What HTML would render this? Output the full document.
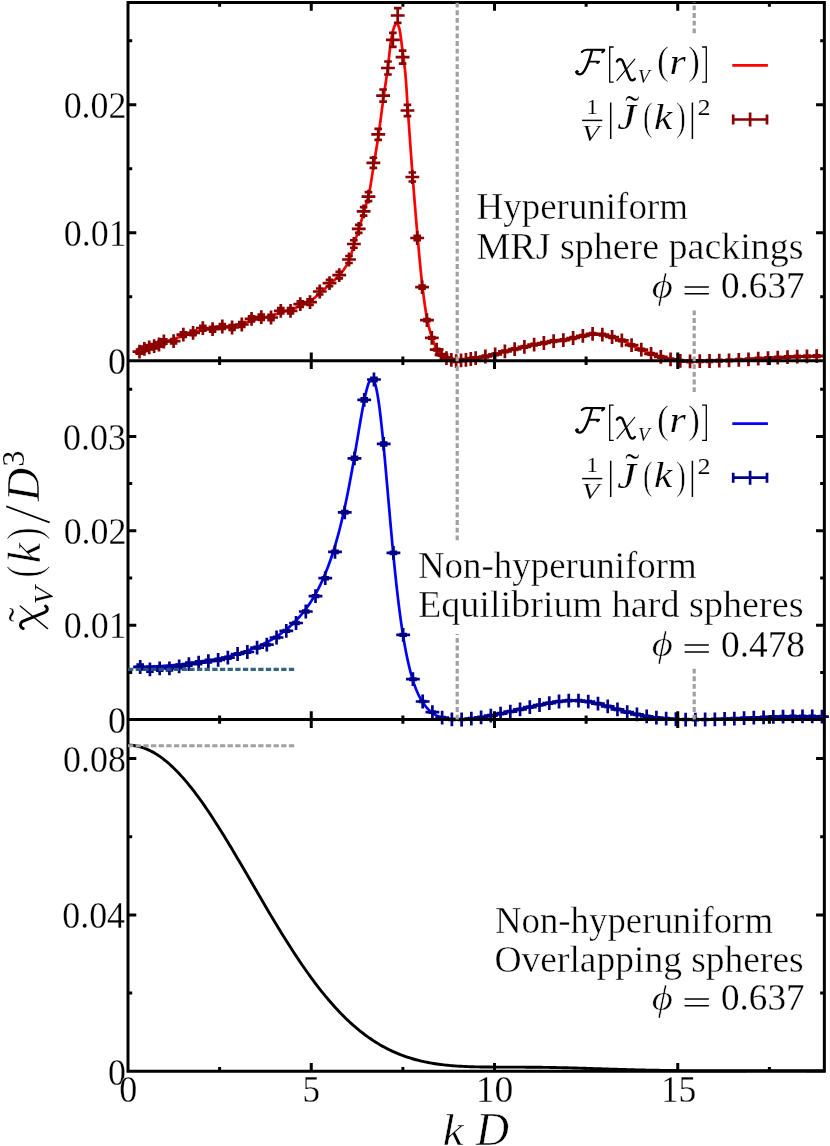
<!DOCTYPE html>
<html><head><meta charset="utf-8"><title>chart</title><style>html,body{margin:0;padding:0;background:#fff}svg{display:block}</style></head><body>
<svg width="830" height="1146" viewBox="0 0 830 1146">
<rect width="830" height="1146" fill="#fff"/>
<path d="M135.00,353.50 L135.77,353.22 L136.53,352.94 L137.30,352.65 L138.07,352.36 L138.83,352.06 L139.60,351.76 L140.37,351.45 L141.13,351.13 L141.90,350.80 L142.67,350.46 L143.43,350.13 L144.20,349.79 L144.97,349.45 L145.74,349.11 L146.50,348.77 L147.27,348.44 L148.04,348.12 L148.80,347.81 L149.57,347.51 L150.34,347.22 L151.10,346.94 L151.87,346.67 L152.64,346.40 L153.40,346.13 L154.17,345.87 L154.94,345.61 L155.70,345.35 L156.47,345.10 L157.24,344.84 L158.00,344.58 L158.77,344.32 L159.54,344.06 L160.30,343.79 L161.07,343.52 L161.84,343.26 L162.60,342.99 L163.37,342.73 L164.14,342.46 L164.91,342.19 L165.67,341.93 L166.44,341.66 L167.21,341.39 L167.97,341.13 L168.74,340.86 L169.51,340.59 L170.27,340.32 L171.04,340.05 L171.81,339.78 L172.57,339.51 L173.34,339.24 L174.11,338.96 L174.87,338.68 L175.64,338.40 L176.41,338.12 L177.17,337.83 L177.94,337.55 L178.71,337.26 L179.47,336.97 L180.24,336.69 L181.01,336.41 L181.77,336.13 L182.54,335.86 L183.31,335.60 L184.07,335.34 L184.84,335.08 L185.61,334.83 L186.38,334.58 L187.14,334.33 L187.91,334.09 L188.68,333.85 L189.44,333.61 L190.21,333.37 L190.98,333.14 L191.74,332.92 L192.51,332.70 L193.28,332.48 L194.04,332.26 L194.81,332.05 L195.58,331.83 L196.34,331.62 L197.11,331.40 L197.88,331.20 L198.64,330.99 L199.41,330.80 L200.18,330.61 L200.94,330.43 L201.71,330.26 L202.48,330.10 L203.24,329.95 L204.01,329.82 L204.78,329.69 L205.55,329.56 L206.31,329.45 L207.08,329.34 L207.85,329.23 L208.61,329.12 L209.38,329.01 L210.15,328.91 L210.91,328.80 L211.68,328.70 L212.45,328.58 L213.21,328.47 L213.98,328.35 L214.75,328.22 L215.51,328.10 L216.28,327.97 L217.05,327.84 L217.81,327.71 L218.58,327.59 L219.35,327.47 L220.11,327.35 L220.88,327.23 L221.65,327.12 L222.41,327.02 L223.18,326.93 L223.95,326.85 L224.72,326.77 L225.48,326.69 L226.25,326.62 L227.02,326.55 L227.78,326.49 L228.55,326.42 L229.32,326.34 L230.08,326.27 L230.85,326.18 L231.62,326.09 L232.38,325.99 L233.15,325.88 L233.92,325.76 L234.68,325.63 L235.45,325.49 L236.22,325.34 L236.98,325.18 L237.75,325.02 L238.52,324.85 L239.28,324.67 L240.05,324.49 L240.82,324.30 L241.58,324.11 L242.35,323.91 L243.12,323.68 L243.89,323.44 L244.65,323.17 L245.42,322.89 L246.19,322.60 L246.95,322.31 L247.72,322.01 L248.49,321.72 L249.25,321.43 L250.02,321.15 L250.79,320.88 L251.55,320.63 L252.32,320.41 L253.09,320.19 L253.85,319.98 L254.62,319.78 L255.39,319.58 L256.15,319.39 L256.92,319.20 L257.69,319.01 L258.45,318.83 L259.22,318.65 L259.99,318.47 L260.75,318.29 L261.52,318.11 L262.29,317.93 L263.06,317.76 L263.82,317.59 L264.59,317.43 L265.36,317.28 L266.12,317.12 L266.89,316.96 L267.66,316.80 L268.42,316.63 L269.19,316.45 L269.96,316.27 L270.72,316.07 L271.49,315.86 L272.26,315.63 L273.02,315.39 L273.79,315.12 L274.56,314.85 L275.32,314.57 L276.09,314.28 L276.86,313.99 L277.62,313.70 L278.39,313.41 L279.16,313.13 L279.92,312.86 L280.69,312.60 L281.46,312.35 L282.22,312.12 L282.99,311.89 L283.76,311.66 L284.53,311.44 L285.29,311.23 L286.06,311.01 L286.83,310.79 L287.59,310.57 L288.36,310.34 L289.13,310.11 L289.89,309.87 L290.66,309.62 L291.43,309.35 L292.19,309.08 L292.96,308.80 L293.73,308.51 L294.49,308.22 L295.26,307.92 L296.03,307.61 L296.79,307.30 L297.56,306.98 L298.33,306.65 L299.09,306.33 L299.86,306.00 L300.63,305.66 L301.39,305.33 L302.16,304.99 L302.93,304.66 L303.70,304.33 L304.46,303.99 L305.23,303.64 L306.00,303.29 L306.76,302.92 L307.53,302.54 L308.30,302.14 L309.06,301.72 L309.83,301.28 L310.60,300.82 L311.36,300.31 L312.13,299.76 L312.90,299.18 L313.66,298.56 L314.43,297.92 L315.20,297.26 L315.96,296.59 L316.73,295.91 L317.50,295.22 L318.26,294.53 L319.03,293.85 L319.80,293.17 L320.56,292.51 L321.33,291.84 L322.10,291.17 L322.87,290.49 L323.63,289.81 L324.40,289.12 L325.17,288.43 L325.93,287.73 L326.70,287.04 L327.47,286.33 L328.23,285.63 L329.00,284.92 L329.77,284.22 L330.53,283.51 L331.30,282.83 L332.07,282.15 L332.83,281.48 L333.60,280.82 L334.37,280.14 L335.13,279.46 L335.90,278.76 L336.67,278.04 L337.43,277.29 L338.20,276.50 L338.97,275.68 L339.73,274.81 L340.50,273.90 L341.27,272.97 L342.04,272.00 L342.80,271.01 L343.57,269.97 L344.34,268.87 L345.10,267.71 L345.87,266.49 L346.64,265.19 L347.40,263.80 L348.17,262.32 L348.94,260.73 L349.70,259.02 L350.47,256.90 L351.24,254.36 L352.00,251.59 L352.77,248.72 L353.54,245.92 L354.30,243.34 L355.07,240.88 L355.84,238.46 L356.60,236.07 L357.37,233.67 L358.14,231.25 L358.90,228.79 L359.67,226.29 L360.44,223.78 L361.20,221.25 L361.97,218.69 L362.74,216.10 L363.51,213.47 L364.27,210.80 L365.04,208.18 L365.81,205.60 L366.57,202.97 L367.34,200.22 L368.11,197.26 L368.87,194.02 L369.64,190.37 L370.41,186.15 L371.17,181.51 L371.94,176.62 L372.71,171.62 L373.47,166.67 L374.24,161.91 L375.01,157.22 L375.77,152.53 L376.54,147.78 L377.31,142.94 L378.07,137.94 L378.84,132.73 L379.61,127.23 L380.37,121.48 L381.14,115.59 L381.91,109.67 L382.68,103.82 L383.44,98.14 L384.21,92.73 L384.98,87.56 L385.74,82.47 L386.51,77.30 L387.28,71.90 L388.04,66.07 L388.81,59.24 L389.58,52.01 L390.34,45.27 L391.11,39.94 L391.88,35.81 L392.64,32.19 L393.41,29.24 L394.18,27.05 L394.94,25.14 L395.71,23.63 L396.48,23.00 L397.24,23.51 L398.01,24.88 L398.78,26.81 L399.54,29.24 L400.31,33.52 L401.08,39.21 L401.85,45.46 L402.61,51.43 L403.38,56.97 L404.15,62.71 L404.91,69.21 L405.68,77.17 L406.45,87.90 L407.21,100.02 L407.98,111.63 L408.75,122.56 L409.51,133.45 L410.28,144.24 L411.05,154.87 L411.81,165.29 L412.58,175.44 L413.35,185.36 L414.11,195.12 L414.88,204.72 L415.65,214.11 L416.41,223.26 L417.18,232.15 L417.95,240.76 L418.71,249.30 L419.48,257.74 L420.25,265.92 L421.02,273.71 L421.78,280.98 L422.55,287.60 L423.32,293.78 L424.08,299.70 L424.85,305.29 L425.62,310.47 L426.38,315.16 L427.15,319.27 L427.92,322.84 L428.68,326.09 L429.45,329.06 L430.22,331.79 L430.98,334.32 L431.75,336.68 L432.52,338.91 L433.28,341.07 L434.05,343.13 L434.82,345.05 L435.58,346.81 L436.35,348.36 L437.12,349.69 L437.88,350.86 L438.65,351.94 L439.42,352.91 L440.18,353.78 L440.95,354.53 L441.72,355.17 L442.49,355.74 L443.25,356.25 L444.02,356.72 L444.79,357.15 L445.55,357.54 L446.32,357.90 L447.09,358.24 L447.85,358.55 L448.62,358.85 L449.39,359.13 L450.15,359.39 L450.92,359.62 L451.69,359.82 L452.45,360.01 L453.22,360.19 L453.99,360.38 L454.75,360.54 L455.52,360.67 L456.29,360.76 L457.05,360.80 L457.82,360.79 L458.59,360.76 L459.35,360.71 L460.12,360.65 L460.89,360.58 L461.66,360.51 L462.42,360.44 L463.19,360.36 L463.96,360.26 L464.72,360.15 L465.49,360.04 L466.26,359.92 L467.02,359.79 L467.79,359.64 L468.56,359.48 L469.32,359.32 L470.09,359.16 L470.86,359.01 L471.62,358.87 L472.39,358.74 L473.16,358.62 L473.92,358.49 L474.69,358.37 L475.46,358.24 L476.22,358.11 L476.99,357.98 L477.76,357.85 L478.52,357.73 L479.29,357.60 L480.06,357.47 L480.83,357.34 L481.59,357.20 L482.36,357.07 L483.13,356.93 L483.89,356.79 L484.66,356.65 L485.43,356.50 L486.19,356.34 L486.96,356.19 L487.73,356.03 L488.49,355.87 L489.26,355.70 L490.03,355.53 L490.79,355.36 L491.56,355.18 L492.33,355.00 L493.09,354.82 L493.86,354.63 L494.63,354.43 L495.39,354.24 L496.16,354.03 L496.93,353.81 L497.69,353.58 L498.46,353.34 L499.23,353.10 L500.00,352.86 L500.76,352.62 L501.53,352.38 L502.30,352.14 L503.06,351.91 L503.83,351.69 L504.60,351.48 L505.36,351.28 L506.13,351.09 L506.90,350.91 L507.66,350.74 L508.43,350.56 L509.20,350.39 L509.96,350.23 L510.73,350.06 L511.50,349.90 L512.26,349.73 L513.03,349.56 L513.80,349.39 L514.56,349.22 L515.33,349.04 L516.10,348.86 L516.86,348.68 L517.63,348.50 L518.40,348.32 L519.17,348.13 L519.93,347.95 L520.70,347.77 L521.47,347.59 L522.23,347.40 L523.00,347.22 L523.77,347.04 L524.53,346.87 L525.30,346.69 L526.07,346.51 L526.83,346.33 L527.60,346.15 L528.37,345.97 L529.13,345.79 L529.90,345.61 L530.67,345.44 L531.43,345.27 L532.20,345.10 L532.97,344.94 L533.73,344.78 L534.50,344.63 L535.27,344.48 L536.03,344.34 L536.80,344.21 L537.57,344.07 L538.33,343.94 L539.10,343.81 L539.87,343.68 L540.64,343.56 L541.40,343.43 L542.17,343.30 L542.94,343.17 L543.70,343.03 L544.47,342.89 L545.24,342.75 L546.00,342.60 L546.77,342.45 L547.54,342.29 L548.30,342.14 L549.07,341.99 L549.84,341.84 L550.60,341.70 L551.37,341.56 L552.14,341.43 L552.90,341.31 L553.67,341.19 L554.44,341.09 L555.20,341.00 L555.97,340.91 L556.74,340.83 L557.50,340.76 L558.27,340.68 L559.04,340.61 L559.81,340.53 L560.57,340.45 L561.34,340.36 L562.11,340.27 L562.87,340.17 L563.64,340.06 L564.41,339.93 L565.17,339.79 L565.94,339.64 L566.71,339.48 L567.47,339.31 L568.24,339.14 L569.01,338.96 L569.77,338.78 L570.54,338.59 L571.31,338.41 L572.07,338.23 L572.84,338.06 L573.61,337.89 L574.37,337.72 L575.14,337.54 L575.91,337.37 L576.67,337.19 L577.44,337.02 L578.21,336.84 L578.98,336.67 L579.74,336.49 L580.51,336.32 L581.28,336.15 L582.04,335.98 L582.81,335.81 L583.58,335.64 L584.34,335.44 L585.11,335.24 L585.88,335.03 L586.64,334.82 L587.41,334.62 L588.18,334.43 L588.94,334.25 L589.71,334.09 L590.48,333.97 L591.24,333.87 L592.01,333.81 L592.78,333.80 L593.54,333.81 L594.31,333.84 L595.08,333.88 L595.84,333.94 L596.61,334.00 L597.38,334.08 L598.15,334.16 L598.91,334.25 L599.68,334.35 L600.45,334.45 L601.21,334.55 L601.98,334.65 L602.75,334.76 L603.51,334.88 L604.28,335.02 L605.05,335.17 L605.81,335.34 L606.58,335.52 L607.35,335.71 L608.11,335.91 L608.88,336.11 L609.65,336.32 L610.41,336.53 L611.18,336.75 L611.95,336.96 L612.71,337.18 L613.48,337.40 L614.25,337.63 L615.01,337.87 L615.78,338.11 L616.55,338.36 L617.31,338.62 L618.08,338.88 L618.85,339.16 L619.62,339.44 L620.38,339.73 L621.15,340.03 L621.92,340.34 L622.68,340.66 L623.45,341.01 L624.22,341.38 L624.98,341.76 L625.75,342.15 L626.52,342.56 L627.28,342.97 L628.05,343.38 L628.82,343.79 L629.58,344.20 L630.35,344.59 L631.12,344.98 L631.88,345.35 L632.65,345.72 L633.42,346.08 L634.18,346.44 L634.95,346.80 L635.72,347.16 L636.48,347.51 L637.25,347.86 L638.02,348.21 L638.79,348.56 L639.55,348.91 L640.32,349.25 L641.09,349.60 L641.85,349.94 L642.62,350.29 L643.39,350.64 L644.15,350.99 L644.92,351.33 L645.69,351.68 L646.45,352.02 L647.22,352.36 L647.99,352.69 L648.75,353.01 L649.52,353.32 L650.29,353.61 L651.05,353.90 L651.82,354.17 L652.59,354.43 L653.35,354.69 L654.12,354.94 L654.89,355.18 L655.65,355.42 L656.42,355.65 L657.19,355.88 L657.96,356.10 L658.72,356.32 L659.49,356.54 L660.26,356.75 L661.02,356.96 L661.79,357.17 L662.56,357.38 L663.32,357.58 L664.09,357.78 L664.86,357.98 L665.62,358.18 L666.39,358.37 L667.16,358.56 L667.92,358.74 L668.69,358.91 L669.46,359.08 L670.22,359.24 L670.99,359.39 L671.76,359.54 L672.52,359.69 L673.29,359.84 L674.06,359.99 L674.82,360.14 L675.59,360.28 L676.36,360.41 L677.13,360.53 L677.89,360.64 L678.66,360.74 L679.43,360.82 L680.19,360.89 L680.96,360.95 L681.73,361.01 L682.49,361.07 L683.26,361.12 L684.03,361.18 L684.79,361.22 L685.56,361.27 L686.33,361.31 L687.09,361.34 L687.86,361.37 L688.63,361.39 L689.39,361.40 L690.16,361.40 L690.93,361.40 L691.69,361.39 L692.46,361.38 L693.23,361.36 L693.99,361.35 L694.76,361.33 L695.53,361.31 L696.29,361.29 L697.06,361.27 L697.83,361.25 L698.60,361.23 L699.36,361.21 L700.13,361.19 L700.90,361.18 L701.66,361.16 L702.43,361.15 L703.20,361.13 L703.96,361.12 L704.73,361.10 L705.50,361.09 L706.26,361.07 L707.03,361.06 L707.80,361.04 L708.56,361.02 L709.33,361.00 L710.10,360.99 L710.86,360.97 L711.63,360.94 L712.40,360.92 L713.16,360.90 L713.93,360.88 L714.70,360.85 L715.46,360.83 L716.23,360.80 L717.00,360.78 L717.77,360.75 L718.53,360.73 L719.30,360.70 L720.07,360.67 L720.83,360.64 L721.60,360.61 L722.37,360.58 L723.13,360.55 L723.90,360.52 L724.67,360.48 L725.43,360.45 L726.20,360.42 L726.97,360.39 L727.73,360.35 L728.50,360.32 L729.27,360.29 L730.03,360.26 L730.80,360.23 L731.57,360.20 L732.33,360.17 L733.10,360.14 L733.87,360.11 L734.63,360.08 L735.40,360.04 L736.17,360.01 L736.94,359.98 L737.70,359.95 L738.47,359.91 L739.24,359.88 L740.00,359.84 L740.77,359.81 L741.54,359.77 L742.30,359.74 L743.07,359.70 L743.84,359.66 L744.60,359.62 L745.37,359.58 L746.14,359.54 L746.90,359.50 L747.67,359.45 L748.44,359.40 L749.20,359.35 L749.97,359.30 L750.74,359.23 L751.50,359.17 L752.27,359.10 L753.04,359.03 L753.80,358.96 L754.57,358.89 L755.34,358.82 L756.11,358.76 L756.87,358.70 L757.64,358.64 L758.41,358.59 L759.17,358.54 L759.94,358.50 L760.71,358.46 L761.47,358.42 L762.24,358.38 L763.01,358.34 L763.77,358.30 L764.54,358.27 L765.31,358.23 L766.07,358.19 L766.84,358.16 L767.61,358.12 L768.37,358.08 L769.14,358.04 L769.91,358.00 L770.67,357.96 L771.44,357.92 L772.21,357.88 L772.97,357.84 L773.74,357.80 L774.51,357.77 L775.28,357.73 L776.04,357.69 L776.81,357.65 L777.58,357.61 L778.34,357.57 L779.11,357.53 L779.88,357.49 L780.64,357.45 L781.41,357.41 L782.18,357.37 L782.94,357.33 L783.71,357.29 L784.48,357.25 L785.24,357.21 L786.01,357.18 L786.78,357.14 L787.54,357.10 L788.31,357.06 L789.08,357.01 L789.84,356.97 L790.61,356.92 L791.38,356.88 L792.14,356.83 L792.91,356.79 L793.68,356.75 L794.44,356.71 L795.21,356.68 L795.98,356.64 L796.75,356.61 L797.51,356.59 L798.28,356.57 L799.05,356.55 L799.81,356.54 L800.58,356.52 L801.35,356.51 L802.11,356.49 L802.88,356.48 L803.65,356.47 L804.41,356.45 L805.18,356.44 L805.95,356.42 L806.71,356.41 L807.48,356.39 L808.25,356.37 L809.01,356.34 L809.78,356.32 L810.55,356.30 L811.31,356.27 L812.08,356.25 L812.85,356.22 L813.61,356.20 L814.38,356.17 L815.15,356.15 L815.92,356.12 L816.68,356.10 L817.45,356.08 L818.22,356.06 L818.98,356.04 L819.75,356.02 L820.52,356.00 L821.28,355.98 L822.05,355.96 L822.82,355.94 L823.58,355.92 L824.35,355.90" fill="none" stroke="#ff0000" stroke-width="2.7" stroke-linejoin="round"/>
<path d="M132.60,351.70H146.40M139.50,344.80V358.60M135.70,349.66h7.6M135.70,353.74h7.6M137.47,348.80H151.27M144.37,341.90V355.70M140.57,346.71h7.6M140.57,350.89h7.6M142.34,347.30H156.14M149.24,340.40V354.20M145.44,345.19h7.6M145.44,349.41h7.6M147.22,346.20H161.02M154.12,339.30V353.10M150.32,344.07h7.6M150.32,348.33h7.6M152.09,344.50H165.89M158.99,337.60V351.40M155.19,342.34h7.6M155.19,346.66h7.6M156.96,341.50H170.76M163.86,334.60V348.40M160.06,339.30h7.6M160.06,343.70h7.6M166.70,341.20H180.50M173.60,334.30V348.10M169.80,338.99h7.6M169.80,343.41h7.6M176.45,334.70H190.25M183.35,327.80V341.60M179.55,332.39h7.6M179.55,337.01h7.6M186.19,332.90H199.99M193.09,326.00V339.80M189.29,330.56h7.6M189.29,335.24h7.6M195.94,328.20H209.74M202.84,321.30V335.10M199.04,325.79h7.6M199.04,330.61h7.6M205.68,329.20H219.48M212.58,322.30V336.10M208.78,326.80h7.6M208.78,331.60h7.6M215.42,326.50H229.22M222.32,319.60V333.40M218.52,324.06h7.6M218.52,328.94h7.6M225.17,327.50H238.97M232.07,320.60V334.40M228.27,325.08h7.6M228.27,329.92h7.6M234.91,324.50H248.71M241.81,317.60V331.40M238.01,322.03h7.6M238.01,326.97h7.6M244.66,318.90H258.46M251.56,312.00V325.80M247.76,316.34h7.6M247.76,321.46h7.6M254.40,317.20H268.20M261.30,310.30V324.10M257.50,314.61h7.6M257.50,319.79h7.6M264.14,317.50H277.94M271.04,310.60V324.40M267.24,314.92h7.6M267.24,320.08h7.6M273.89,310.80H287.69M280.79,303.90V317.70M276.99,308.11h7.6M276.99,313.49h7.6M283.63,310.80H297.43M290.53,303.90V317.70M286.73,308.11h7.6M286.73,313.49h7.6M293.38,304.20H307.18M300.28,297.30V311.10M296.48,301.41h7.6M296.48,306.99h7.6M303.12,302.20H316.92M310.02,295.30V309.10M306.22,299.38h7.6M306.22,305.02h7.6M312.86,291.50H326.66M319.76,284.60V298.40M315.96,288.51h7.6M315.96,294.49h7.6M322.61,283.10H336.41M329.51,276.20V290.00M325.71,279.97h7.6M325.71,286.23h7.6M332.35,275.20H346.15M339.25,268.30V282.10M335.45,271.95h7.6M335.45,278.45h7.6M342.10,259.50H355.90M349.00,252.60V266.40M345.20,256.00h7.6M345.20,263.00h7.6M346.97,244.00H360.77M353.87,237.10V250.90M350.07,240.26h7.6M350.07,247.74h7.6M351.84,228.80H365.64M358.74,221.90V235.70M354.94,224.82h7.6M354.94,232.78h7.6M356.71,211.40H370.51M363.61,204.50V218.30M359.81,207.14h7.6M359.81,215.66h7.6M361.58,196.60H375.38M368.48,189.70V203.50M364.68,192.11h7.6M364.68,201.09h7.6M366.46,162.80H380.26M373.36,155.90V169.70M369.56,157.77h7.6M369.56,167.83h7.6M371.33,134.40H385.13M378.23,127.50V141.30M374.43,128.92h7.6M374.43,139.88h7.6M376.20,95.60H390.00M383.10,88.70V102.50M379.30,89.51h7.6M379.30,101.69h7.6M381.07,68.00H394.87M387.97,61.10V74.90M384.17,61.48h7.6M384.17,74.52h7.6M385.94,39.90H399.74M392.84,32.93V46.87M389.04,32.93h7.6M389.04,46.87h7.6M390.82,15.50H404.62M397.72,8.15V22.85M393.92,8.15h7.6M393.92,22.85h7.6M395.69,57.10H409.49M402.59,50.20V64.00M398.79,50.60h7.6M398.79,63.60h7.6M400.56,110.50H414.36M407.46,103.60V117.40M403.66,104.80h7.6M403.66,116.20h7.6M405.43,177.00H419.23M412.33,170.10V183.90M408.53,172.50h7.6M408.53,181.50h7.6M410.30,238.00H424.10M417.20,231.10V244.90M413.40,235.90h7.6M413.40,240.10h7.6M415.18,287.20H428.98M422.08,280.30V294.10M418.28,285.70h7.6M418.28,288.70h7.6M420.05,320.10H433.85M426.95,313.20V327.00M423.15,319.10h7.6M423.15,321.10h7.6M424.92,337.90H438.72M431.82,331.00V344.80M428.02,337.10h7.6M428.02,338.70h7.6M429.79,349.70H443.59M436.69,342.80V356.60M432.89,348.90h7.6M432.89,350.50h7.6M434.66,354.80H448.46M441.56,347.90V361.70M437.76,354.00h7.6M437.76,355.60h7.6M439.54,358.20H453.34M446.44,351.30V365.10M442.64,357.40h7.6M442.64,359.00h7.6M444.41,359.90H458.21M451.31,353.00V366.80M447.51,359.10h7.6M447.51,360.70h7.6M449.28,361.10H463.08M456.18,354.20V368.00M452.38,360.30h7.6M452.38,361.90h7.6M454.15,360.40H467.95M461.05,353.50V367.30M457.25,359.60h7.6M457.25,361.20h7.6M459.02,359.90H472.82M465.92,353.00V366.80M462.12,359.10h7.6M462.12,360.70h7.6M463.90,359.00H477.70M470.80,352.10V365.90M467.00,358.20h7.6M467.00,359.80h7.6M468.77,358.20H482.57M475.67,351.30V365.10M471.87,357.40h7.6M471.87,359.00h7.6M478.51,356.50H492.31M485.41,349.60V363.40M481.61,355.70h7.6M481.61,357.30h7.6M488.26,354.30H502.06M495.16,347.40V361.20M491.36,353.50h7.6M491.36,355.10h7.6M498.00,351.40H511.80M504.90,344.50V358.30M501.10,350.60h7.6M501.10,352.20h7.6M507.74,349.20H521.54M514.64,342.30V356.10M510.84,348.40h7.6M510.84,350.00h7.6M517.49,346.90H531.29M524.39,340.00V353.80M520.59,346.10h7.6M520.59,347.70h7.6M527.23,344.70H541.03M534.13,337.80V351.60M530.33,343.90h7.6M530.33,345.50h7.6M536.98,343.00H550.78M543.88,336.10V349.90M540.08,342.20h7.6M540.08,343.80h7.6M546.72,341.20H560.52M553.62,334.30V348.10M549.82,340.40h7.6M549.82,342.00h7.6M556.46,340.10H570.26M563.36,333.20V347.00M559.56,339.30h7.6M559.56,340.90h7.6M566.21,338.00H580.01M573.11,331.10V344.90M569.31,337.20h7.6M569.31,338.80h7.6M575.95,335.80H589.75M582.85,328.90V342.70M579.05,335.00h7.6M579.05,336.60h7.6M585.70,333.80H599.50M592.60,326.90V340.70M588.80,333.00h7.6M588.80,334.60h7.6M595.44,334.70H609.24M602.34,327.80V341.60M598.54,333.90h7.6M598.54,335.50h7.6M605.18,337.00H618.98M612.08,330.10V343.90M608.28,336.20h7.6M608.28,337.80h7.6M614.93,340.30H628.73M621.83,333.40V347.20M618.03,339.50h7.6M618.03,341.10h7.6M624.67,345.20H638.47M631.57,338.30V352.10M627.77,344.40h7.6M627.77,346.00h7.6M634.42,349.70H648.22M641.32,342.80V356.60M637.52,348.90h7.6M637.52,350.50h7.6M644.16,353.90H657.96M651.06,347.00V360.80M647.26,353.10h7.6M647.26,354.70h7.6M653.90,356.90H667.70M660.80,350.00V363.80M657.00,356.10h7.6M657.00,357.70h7.6M663.65,359.30H677.45M670.55,352.40V366.20M666.75,358.50h7.6M666.75,360.10h7.6M673.39,360.90H687.19M680.29,354.00V367.80M676.49,360.10h7.6M676.49,361.70h7.6M683.14,361.40H696.94M690.04,354.50V368.30M686.24,360.60h7.6M686.24,362.20h7.6M692.88,361.20H706.68M699.78,354.30V368.10M695.98,360.40h7.6M695.98,362.00h7.6M702.62,361.00H716.42M709.52,354.10V367.90M705.72,360.20h7.6M705.72,361.80h7.6M712.37,360.70H726.17M719.27,353.80V367.60M715.47,359.90h7.6M715.47,361.50h7.6M722.11,360.30H735.91M729.01,353.40V367.20M725.21,359.50h7.6M725.21,361.10h7.6M731.86,359.90H745.66M738.76,353.00V366.80M734.96,359.10h7.6M734.96,360.70h7.6M741.60,359.40H755.40M748.50,352.50V366.30M744.70,358.60h7.6M744.70,360.20h7.6M751.34,358.60H765.14M758.24,351.70V365.50M754.44,357.80h7.6M754.44,359.40h7.6M761.09,358.10H774.89M767.99,351.20V365.00M764.19,357.30h7.6M764.19,358.90h7.6M770.83,357.60H784.63M777.73,350.70V364.50M773.93,356.80h7.6M773.93,358.40h7.6M780.58,357.10H794.38M787.48,350.20V364.00M783.68,356.30h7.6M783.68,357.90h7.6M790.32,356.60H804.12M797.22,349.70V363.50M793.42,355.80h7.6M793.42,357.40h7.6M800.06,356.40H813.86M806.96,349.50V363.30M803.16,355.60h7.6M803.16,357.20h7.6M809.81,356.10H823.61M816.71,349.20V363.00M812.91,355.30h7.6M812.91,356.90h7.6" fill="none" stroke="#8b0000" stroke-width="2.7"/>
<path d="M133.50,666.97 L134.49,666.96 L135.47,666.95 L136.46,666.94 L137.45,666.92 L138.44,666.90 L139.43,666.89 L140.42,666.87 L141.40,666.84 L142.39,666.82 L143.38,666.79 L144.37,666.77 L145.36,666.74 L146.35,666.71 L147.33,666.67 L148.32,666.64 L149.31,666.60 L150.30,666.57 L151.29,666.53 L152.28,666.49 L153.26,666.44 L154.25,666.40 L155.24,666.35 L156.23,666.30 L157.22,666.25 L158.21,666.20 L159.19,666.15 L160.18,666.09 L161.17,666.03 L162.16,665.98 L163.15,665.91 L164.14,665.85 L165.12,665.79 L166.11,665.72 L167.10,665.65 L168.09,665.58 L169.08,665.51 L170.07,665.43 L171.05,665.35 L172.04,665.27 L173.03,665.19 L174.02,665.11 L175.01,665.02 L176.00,664.94 L176.98,664.85 L177.97,664.76 L178.96,664.66 L179.95,664.57 L180.94,664.47 L181.93,664.37 L182.91,664.27 L183.90,664.16 L184.89,664.05 L185.88,663.94 L186.87,663.83 L187.86,663.72 L188.84,663.60 L189.83,663.48 L190.82,663.36 L191.81,663.24 L192.80,663.11 L193.79,662.98 L194.77,662.85 L195.76,662.71 L196.75,662.58 L197.74,662.44 L198.73,662.30 L199.72,662.15 L200.70,662.00 L201.69,661.85 L202.68,661.70 L203.67,661.54 L204.66,661.38 L205.65,661.22 L206.63,661.05 L207.62,660.88 L208.61,660.71 L209.60,660.54 L210.59,660.36 L211.58,660.18 L212.57,659.99 L213.55,659.80 L214.54,659.61 L215.53,659.41 L216.52,659.21 L217.51,659.01 L218.50,658.81 L219.48,658.60 L220.47,658.38 L221.46,658.16 L222.45,657.94 L223.44,657.72 L224.43,657.49 L225.41,657.25 L226.40,657.01 L227.39,656.77 L228.38,656.52 L229.37,656.27 L230.36,656.01 L231.34,655.75 L232.33,655.49 L233.32,655.22 L234.31,654.94 L235.30,654.66 L236.29,654.37 L237.27,654.08 L238.26,653.79 L239.25,653.49 L240.24,653.18 L241.23,652.86 L242.22,652.55 L243.20,652.22 L244.19,651.89 L245.18,651.55 L246.17,651.21 L247.16,650.86 L248.15,650.50 L249.13,650.14 L250.12,649.77 L251.11,649.39 L252.10,649.01 L253.09,648.61 L254.08,648.21 L255.06,647.81 L256.05,647.39 L257.04,646.97 L258.03,646.53 L259.02,646.09 L260.01,645.64 L260.99,645.18 L261.98,644.72 L262.97,644.24 L263.96,643.75 L264.95,643.26 L265.94,642.75 L266.92,642.23 L267.91,641.70 L268.90,641.16 L269.89,640.61 L270.88,640.05 L271.87,639.47 L272.85,638.89 L273.84,638.29 L274.83,637.68 L275.82,637.05 L276.81,636.41 L277.80,635.76 L278.78,635.09 L279.77,634.40 L280.76,633.71 L281.75,632.99 L282.74,632.26 L283.73,631.51 L284.71,630.75 L285.70,629.96 L286.69,629.16 L287.68,628.34 L288.67,627.50 L289.66,626.64 L290.64,625.76 L291.63,624.85 L292.62,623.93 L293.61,622.98 L294.60,622.00 L295.59,621.01 L296.57,619.98 L297.56,618.93 L298.55,617.86 L299.54,616.75 L300.53,615.62 L301.52,614.45 L302.50,613.26 L303.49,612.03 L304.48,610.77 L305.47,609.47 L306.46,608.14 L307.45,606.77 L308.43,605.36 L309.42,603.91 L310.41,602.42 L311.40,600.88 L312.39,599.31 L313.38,597.68 L314.36,596.01 L315.35,594.28 L316.34,592.50 L317.33,590.67 L318.32,588.78 L319.31,586.84 L320.29,584.83 L321.28,582.76 L322.27,580.62 L323.26,578.42 L324.25,576.14 L325.24,573.79 L326.22,571.36 L327.21,568.86 L328.20,566.27 L329.19,563.59 L330.18,560.82 L331.17,557.97 L332.15,555.01 L333.14,551.96 L334.13,548.80 L335.12,545.53 L336.11,542.15 L337.10,538.66 L338.08,535.06 L339.07,531.32 L340.06,527.47 L341.05,523.49 L342.04,519.37 L343.03,515.12 L344.01,510.74 L345.00,506.22 L345.99,501.56 L346.98,496.76 L347.97,491.82 L348.96,486.75 L349.94,481.54 L350.93,476.21 L351.92,470.75 L352.91,465.19 L353.90,459.52 L354.89,453.77 L355.87,447.96 L356.86,442.10 L357.85,436.22 L358.84,430.35 L359.83,424.53 L360.82,418.80 L361.80,413.20 L362.79,407.79 L363.78,402.63 L364.77,397.78 L365.76,393.31 L366.75,389.29 L367.74,385.79 L368.72,382.91 L369.71,380.71 L370.70,379.27 L371.69,378.66 L372.68,378.95 L373.67,380.19 L374.65,382.42 L375.64,385.67 L376.63,389.94 L377.62,395.22 L378.61,401.49 L379.60,408.69 L380.58,416.76 L381.57,425.62 L382.56,435.17 L383.55,445.30 L384.54,455.92 L385.53,466.89 L386.51,478.12 L387.50,489.48 L388.49,500.89 L389.48,512.24 L390.47,523.45 L391.46,534.45 L392.44,545.18 L393.43,555.58 L394.42,565.62 L395.41,575.26 L396.40,584.49 L397.39,593.28 L398.37,601.64 L399.36,609.56 L400.35,617.05 L401.34,624.12 L402.33,630.77 L403.32,637.02 L404.30,642.88 L405.29,648.38 L406.28,653.52 L407.27,658.34 L408.26,662.83 L409.25,667.03 L410.23,670.94 L411.22,674.59 L412.21,678.00 L413.20,681.17 L414.19,684.12 L415.18,686.86 L416.16,689.42 L417.15,691.80 L418.14,694.01 L419.13,696.07 L420.12,697.98 L421.11,699.75 L422.09,701.40 L423.08,702.94 L424.07,704.36 L425.06,705.68 L426.05,706.90 L427.04,708.04 L428.02,709.09 L429.01,710.06 L430.00,710.96 L430.99,711.80 L431.98,712.57 L432.97,713.28 L433.95,713.93 L434.94,714.54 L435.93,715.09 L436.92,715.60 L437.91,716.07 L438.90,716.50 L439.88,716.89 L440.87,717.24 L441.86,717.57 L442.85,717.86 L443.84,718.12 L444.83,718.36 L445.81,718.57 L446.80,718.76 L447.79,718.92 L448.78,719.07 L449.77,719.19 L450.76,719.30 L451.74,719.39 L452.73,719.46 L453.72,719.51 L454.71,719.55 L455.70,719.58 L456.69,719.60 L457.67,719.60 L458.66,719.59 L459.65,719.57 L460.64,719.54 L461.63,719.50 L462.62,719.45 L463.60,719.39 L464.59,719.32 L465.58,719.25 L466.57,719.17 L467.56,719.08 L468.55,718.98 L469.53,718.88 L470.52,718.77 L471.51,718.66 L472.50,718.54 L473.49,718.41 L474.48,718.28 L475.46,718.15 L476.45,718.01 L477.44,717.86 L478.43,717.72 L479.42,717.57 L480.41,717.41 L481.39,717.25 L482.38,717.09 L483.37,716.92 L484.36,716.76 L485.35,716.59 L486.34,716.41 L487.32,716.23 L488.31,716.05 L489.30,715.87 L490.29,715.69 L491.28,715.50 L492.27,715.31 L493.25,715.12 L494.24,714.93 L495.23,714.73 L496.22,714.53 L497.21,714.33 L498.20,714.13 L499.18,713.93 L500.17,713.73 L501.16,713.52 L502.15,713.31 L503.14,713.10 L504.13,712.89 L505.11,712.68 L506.10,712.47 L507.09,712.25 L508.08,712.04 L509.07,711.82 L510.06,711.60 L511.04,711.38 L512.03,711.16 L513.02,710.94 L514.01,710.72 L515.00,710.50 L515.99,710.28 L516.97,710.05 L517.96,709.83 L518.95,709.61 L519.94,709.38 L520.93,709.16 L521.92,708.93 L522.91,708.70 L523.89,708.48 L524.88,708.25 L525.87,708.03 L526.86,707.80 L527.85,707.58 L528.84,707.35 L529.82,707.13 L530.81,706.90 L531.80,706.68 L532.79,706.46 L533.78,706.24 L534.77,706.02 L535.75,705.80 L536.74,705.58 L537.73,705.37 L538.72,705.15 L539.71,704.94 L540.70,704.73 L541.68,704.53 L542.67,704.32 L543.66,704.12 L544.65,703.92 L545.64,703.73 L546.63,703.53 L547.61,703.34 L548.60,703.16 L549.59,702.98 L550.58,702.80 L551.57,702.63 L552.56,702.46 L553.54,702.30 L554.53,702.14 L555.52,701.99 L556.51,701.84 L557.50,701.70 L558.49,701.57 L559.47,701.44 L560.46,701.32 L561.45,701.21 L562.44,701.11 L563.43,701.01 L564.42,700.92 L565.40,700.84 L566.39,700.77 L567.38,700.70 L568.37,700.65 L569.36,700.60 L570.35,700.57 L571.33,700.54 L572.32,700.52 L573.31,700.52 L574.30,700.52 L575.29,700.54 L576.28,700.56 L577.26,700.60 L578.25,700.64 L579.24,700.70 L580.23,700.77 L581.22,700.85 L582.21,700.93 L583.19,701.04 L584.18,701.15 L585.17,701.27 L586.16,701.40 L587.15,701.54 L588.14,701.70 L589.12,701.86 L590.11,702.03 L591.10,702.21 L592.09,702.40 L593.08,702.60 L594.07,702.81 L595.05,703.03 L596.04,703.26 L597.03,703.49 L598.02,703.73 L599.01,703.98 L600.00,704.23 L600.98,704.49 L601.97,704.76 L602.96,705.03 L603.95,705.30 L604.94,705.58 L605.93,705.87 L606.91,706.15 L607.90,706.44 L608.89,706.73 L609.88,707.03 L610.87,707.32 L611.86,707.62 L612.84,707.91 L613.83,708.21 L614.82,708.51 L615.81,708.80 L616.80,709.10 L617.79,709.39 L618.77,709.68 L619.76,709.97 L620.75,710.26 L621.74,710.55 L622.73,710.83 L623.72,711.11 L624.70,711.38 L625.69,711.65 L626.68,711.92 L627.67,712.19 L628.66,712.44 L629.65,712.70 L630.63,712.95 L631.62,713.20 L632.61,713.44 L633.60,713.67 L634.59,713.91 L635.58,714.13 L636.56,714.35 L637.55,714.57 L638.54,714.78 L639.53,714.98 L640.52,715.18 L641.51,715.38 L642.49,715.57 L643.48,715.75 L644.47,715.93 L645.46,716.11 L646.45,716.27 L647.44,716.44 L648.42,716.60 L649.41,716.75 L650.40,716.90 L651.39,717.04 L652.38,717.18 L653.37,717.31 L654.35,717.44 L655.34,717.57 L656.33,717.69 L657.32,717.80 L658.31,717.91 L659.30,718.02 L660.28,718.12 L661.27,718.22 L662.26,718.31 L663.25,718.40 L664.24,718.49 L665.23,718.57 L666.21,718.65 L667.20,718.72 L668.19,718.79 L669.18,718.86 L670.17,718.92 L671.16,718.98 L672.15,719.04 L673.13,719.10 L674.12,719.15 L675.11,719.19 L676.10,719.24 L677.09,719.28 L678.08,719.32 L679.06,719.35 L680.05,719.39 L681.04,719.42 L682.03,719.44 L683.02,719.47 L684.01,719.49 L684.99,719.51 L685.98,719.53 L686.97,719.55 L687.96,719.56 L688.95,719.57 L689.94,719.58 L690.92,719.59 L691.91,719.59 L692.90,719.60 L693.89,719.60 L694.88,719.60 L695.87,719.60 L696.85,719.59 L697.84,719.59 L698.83,719.58 L699.82,719.57 L700.81,719.56 L701.80,719.55 L702.78,719.54 L703.77,719.52 L704.76,719.51 L705.75,719.49 L706.74,719.47 L707.73,719.45 L708.71,719.43 L709.70,719.41 L710.69,719.39 L711.68,719.36 L712.67,719.34 L713.66,719.31 L714.64,719.28 L715.63,719.25 L716.62,719.22 L717.61,719.19 L718.60,719.16 L719.59,719.13 L720.57,719.10 L721.56,719.06 L722.55,719.03 L723.54,718.99 L724.53,718.96 L725.52,718.92 L726.50,718.89 L727.49,718.85 L728.48,718.81 L729.47,718.77 L730.46,718.73 L731.45,718.69 L732.43,718.65 L733.42,718.61 L734.41,718.57 L735.40,718.53 L736.39,718.49 L737.38,718.44 L738.36,718.40 L739.35,718.36 L740.34,718.31 L741.33,718.27 L742.32,718.23 L743.31,718.18 L744.29,718.14 L745.28,718.10 L746.27,718.05 L747.26,718.01 L748.25,717.96 L749.24,717.92 L750.22,717.88 L751.21,717.83 L752.20,717.79 L753.19,717.74 L754.18,717.70 L755.17,717.66 L756.15,717.61 L757.14,717.57 L758.13,717.53 L759.12,717.49 L760.11,717.44 L761.10,717.40 L762.08,717.36 L763.07,717.32 L764.06,717.28 L765.05,717.24 L766.04,717.20 L767.03,717.16 L768.01,717.12 L769.00,717.08 L769.99,717.04 L770.98,717.01 L771.97,716.97 L772.96,716.94 L773.94,716.90 L774.93,716.87 L775.92,716.84 L776.91,716.80 L777.90,716.77 L778.89,716.74 L779.87,716.71 L780.86,716.68 L781.85,716.66 L782.84,716.63 L783.83,716.61 L784.82,716.58 L785.80,716.56 L786.79,716.54 L787.78,716.52 L788.77,716.50 L789.76,716.48 L790.75,716.46 L791.73,716.45 L792.72,716.43 L793.71,716.42 L794.70,716.41 L795.69,716.40 L796.68,716.39 L797.66,716.38 L798.65,716.37 L799.64,716.37 L800.63,716.36 L801.62,716.36 L802.61,716.36 L803.59,716.36 L804.58,716.36 L805.57,716.37 L806.56,716.37 L807.55,716.38 L808.54,716.38 L809.52,716.39 L810.51,716.40 L811.50,716.42 L812.49,716.43 L813.48,716.44 L814.47,716.46 L815.45,716.48 L816.44,716.49 L817.43,716.51 L818.42,716.54 L819.41,716.56 L820.40,716.58 L821.38,716.61 L822.37,716.63 L823.36,716.66 L824.35,716.69" fill="none" stroke="#0000ff" stroke-width="2.7" stroke-linejoin="round"/>
<path d="M133.30,667.00H147.10M140.20,660.10V673.90M136.40,664.50h7.6M136.40,669.50h7.6M143.04,669.30H156.84M149.94,662.40V676.20M146.14,666.98h7.6M146.14,671.62h7.6M152.78,668.40H166.58M159.68,661.50V675.30M155.88,666.26h7.6M155.88,670.54h7.6M162.52,668.40H176.32M169.42,661.50V675.30M165.62,666.44h7.6M165.62,670.36h7.6M172.26,666.40H186.06M179.16,659.50V673.30M175.36,664.62h7.6M175.36,668.18h7.6M182.00,664.10H195.80M188.90,657.20V671.00M185.10,662.50h7.6M185.10,665.70h7.6M191.74,662.70H205.54M198.64,655.80V669.60M194.84,661.28h7.6M194.84,664.12h7.6M201.48,661.20H215.28M208.38,654.30V668.10M204.58,659.96h7.6M204.58,662.44h7.6M211.22,659.80H225.02M218.12,652.90V666.70M214.32,658.74h7.6M214.32,660.86h7.6M220.96,657.70H234.76M227.86,650.80V664.60M224.06,656.82h7.6M224.06,658.58h7.6M230.70,654.00H244.50M237.60,647.10V660.90M233.80,653.30h7.6M233.80,654.70h7.6M240.44,652.00H254.24M247.34,645.10V658.90M243.54,651.32h7.6M243.54,652.68h7.6M250.18,647.60H263.98M257.08,640.70V654.50M253.28,646.91h7.6M253.28,648.29h7.6M259.92,644.70H273.72M266.82,637.80V651.60M263.02,644.00h7.6M263.02,645.40h7.6M269.66,637.50H283.46M276.56,630.60V644.40M272.76,636.77h7.6M272.76,638.23h7.6M279.40,630.90H293.20M286.30,624.00V637.80M282.50,630.15h7.6M282.50,631.65h7.6M289.14,623.00H302.94M296.04,616.10V629.90M292.24,622.22h7.6M292.24,623.78h7.6M298.88,611.50H312.68M305.78,604.60V618.40M301.98,610.68h7.6M301.98,612.32h7.6M308.62,596.10H322.42M315.52,589.20V603.00M311.72,595.23h7.6M311.72,596.97h7.6M318.36,578.20H332.16M325.26,571.30V585.10M321.46,577.27h7.6M321.46,579.13h7.6M328.10,551.80H341.90M335.00,544.90V558.70M331.20,550.78h7.6M331.20,552.82h7.6M337.84,512.30H351.64M344.74,505.40V519.20M340.94,511.15h7.6M340.94,513.45h7.6M347.58,458.30H361.38M354.48,451.40V465.20M350.68,456.97h7.6M350.68,459.63h7.6M357.32,399.90H371.12M364.22,393.00V406.80M360.42,398.37h7.6M360.42,401.43h7.6M367.06,379.50H380.86M373.96,372.60V386.40M370.16,377.90h7.6M370.16,381.10h7.6M376.80,443.90H390.60M383.70,437.00V450.80M379.90,442.52h7.6M379.90,445.28h7.6M386.54,552.80H400.34M393.44,545.90V559.70M389.64,551.79h7.6M389.64,553.81h7.6M396.28,634.80H410.08M403.18,627.90V641.70M399.38,634.06h7.6M399.38,635.54h7.6M406.02,679.20H419.82M412.92,672.30V686.10M409.12,678.61h7.6M409.12,679.79h7.6M415.76,701.50H429.56M422.66,694.60V708.40M418.86,700.99h7.6M418.86,702.01h7.6M425.50,712.10H439.30M432.40,705.20V719.00M428.60,711.62h7.6M428.60,712.58h7.6M435.24,717.65H449.04M442.14,710.75V724.55M438.34,717.20h7.6M438.34,718.11h7.6M444.98,719.40H458.78M451.88,712.50V726.30M448.08,718.95h7.6M448.08,719.85h7.6M454.72,719.50H468.52M461.62,712.60V726.40M457.82,719.05h7.6M457.82,719.95h7.6M464.46,718.67H478.26M471.36,711.77V725.57M467.56,718.22h7.6M467.56,719.13h7.6M474.20,717.30H488.00M481.10,710.40V724.20M477.30,716.84h7.6M477.30,717.76h7.6M483.94,715.58H497.74M490.84,708.68V722.48M487.04,715.12h7.6M487.04,716.05h7.6M493.68,713.64H507.48M500.58,706.74V720.54M496.78,713.17h7.6M496.78,714.11h7.6M503.42,711.54H517.22M510.32,704.64V718.44M506.52,711.07h7.6M506.52,712.02h7.6M513.16,709.35H526.96M520.06,702.45V716.25M516.26,708.87h7.6M516.26,709.84h7.6M522.90,707.13H536.70M529.80,700.23V714.03M526.00,706.64h7.6M526.00,707.63h7.6M532.64,704.98H546.44M539.54,698.08V711.88M535.74,704.48h7.6M535.74,705.48h7.6M542.38,703.03H556.18M549.28,696.13V709.93M545.48,702.53h7.6M545.48,703.54h7.6M552.12,701.50H565.92M559.02,694.60V708.40M555.22,700.99h7.6M555.22,702.01h7.6M561.86,700.63H575.66M568.76,693.73V707.53M564.96,700.11h7.6M564.96,701.14h7.6M571.60,700.66H585.40M578.50,693.76V707.56M574.70,700.14h7.6M574.70,701.17h7.6M581.34,701.71H595.14M588.24,694.81V708.61M584.44,701.20h7.6M584.44,702.22h7.6M591.08,703.72H604.88M597.98,696.82V710.62M594.18,703.22h7.6M594.18,704.22h7.6M600.82,706.39H614.62M607.72,699.49V713.29M603.92,705.89h7.6M603.92,706.88h7.6M610.56,709.29H624.36M617.46,702.39V716.19M613.66,708.81h7.6M613.66,709.78h7.6M620.30,712.06H634.10M627.20,705.16V718.96M623.40,711.58h7.6M623.40,712.54h7.6M630.04,714.43H643.84M636.94,707.53V721.33M633.14,713.97h7.6M633.14,714.90h7.6M639.78,716.31H653.58M646.68,709.41V723.21M642.88,715.85h7.6M642.88,716.77h7.6M649.52,717.70H663.32M656.42,710.80V724.60M652.62,717.24h7.6M652.62,718.15h7.6M659.26,718.64H673.06M666.16,711.74V725.54M662.36,718.19h7.6M662.36,719.10h7.6M669.00,719.23H682.80M675.90,712.33V726.13M672.10,718.78h7.6M672.10,719.68h7.6M678.74,719.53H692.54M685.64,712.63V726.43M681.84,719.08h7.6M681.84,719.98h7.6M688.48,719.60H702.28M695.38,712.70V726.50M691.58,719.15h7.6M691.58,720.05h7.6M698.22,719.50H712.02M705.12,712.60V726.40M701.32,719.05h7.6M701.32,719.95h7.6M707.96,719.28H721.76M714.86,712.38V726.18M711.06,718.82h7.6M711.06,719.73h7.6M717.70,718.96H731.50M724.60,712.06V725.86M720.80,718.50h7.6M720.80,719.41h7.6M727.44,718.57H741.24M734.34,711.67V725.47M730.54,718.12h7.6M730.54,719.03h7.6M737.18,718.15H750.98M744.08,711.25V725.05M740.28,717.70h7.6M740.28,718.61h7.6M746.92,717.72H760.72M753.82,710.82V724.62M750.02,717.26h7.6M750.02,718.17h7.6M756.66,717.30H770.46M763.56,710.40V724.20M759.76,716.84h7.6M759.76,717.76h7.6M766.40,716.92H780.20M773.30,710.02V723.82M769.50,716.47h7.6M769.50,717.38h7.6M776.14,716.63H789.94M783.04,709.73V723.53M779.24,716.17h7.6M779.24,717.09h7.6M785.88,716.43H799.68M792.78,709.53V723.33M788.98,715.97h7.6M788.98,716.89h7.6M795.62,716.36H809.42M802.52,709.46V723.26M798.72,715.90h7.6M798.72,716.82h7.6M805.36,716.43H819.16M812.26,709.53V723.33M808.46,715.96h7.6M808.46,716.89h7.6M815.10,716.62H828.90M822.00,709.72V723.52M818.20,716.16h7.6M818.20,717.08h7.6" fill="none" stroke="#00008b" stroke-width="2.7"/>
<path d="M128.00,745.16 L129.75,745.20 L131.49,745.30 L133.24,745.47 L134.98,745.72 L136.73,746.03 L138.47,746.40 L140.22,746.85 L141.96,747.36 L143.71,747.95 L145.45,748.60 L147.20,749.31 L148.94,750.10 L150.69,750.95 L152.43,751.86 L154.18,752.84 L155.92,753.89 L157.67,755.00 L159.41,756.17 L161.16,757.40 L162.90,758.70 L164.65,760.06 L166.40,761.48 L168.14,762.96 L169.89,764.50 L171.63,766.10 L173.38,767.75 L175.12,769.46 L176.87,771.23 L178.61,773.05 L180.36,774.92 L182.10,776.85 L183.85,778.83 L185.59,780.86 L187.34,782.93 L189.08,785.06 L190.83,787.23 L192.57,789.45 L194.32,791.72 L196.06,794.03 L197.81,796.38 L199.55,798.77 L201.30,801.20 L203.05,803.67 L204.79,806.17 L206.54,808.72 L208.28,811.30 L210.03,813.91 L211.77,816.55 L213.52,819.22 L215.26,821.93 L217.01,824.66 L218.75,827.42 L220.50,830.20 L222.24,833.01 L223.99,835.84 L225.73,838.69 L227.48,841.56 L229.22,844.45 L230.97,847.36 L232.71,850.29 L234.46,853.22 L236.20,856.17 L237.95,859.14 L239.70,862.11 L241.44,865.09 L243.19,868.08 L244.93,871.07 L246.68,874.07 L248.42,877.08 L250.17,880.08 L251.91,883.09 L253.66,886.10 L255.40,889.10 L257.15,892.10 L258.89,895.10 L260.64,898.10 L262.38,901.08 L264.13,904.06 L265.87,907.03 L267.62,909.99 L269.36,912.94 L271.11,915.88 L272.85,918.80 L274.60,921.71 L276.35,924.60 L278.09,927.48 L279.84,930.34 L281.58,933.18 L283.33,936.00 L285.07,938.80 L286.82,941.58 L288.56,944.34 L290.31,947.08 L292.05,949.79 L293.80,952.47 L295.54,955.13 L297.29,957.77 L299.03,960.38 L300.78,962.95 L302.52,965.51 L304.27,968.03 L306.01,970.52 L307.76,972.98 L309.50,975.42 L311.25,977.82 L313.00,980.19 L314.74,982.52 L316.49,984.83 L318.23,987.10 L319.98,989.33 L321.72,991.54 L323.47,993.71 L325.21,995.84 L326.96,997.94 L328.70,1000.01 L330.45,1002.03 L332.19,1004.03 L333.94,1005.99 L335.68,1007.91 L337.43,1009.79 L339.17,1011.64 L340.92,1013.46 L342.66,1015.24 L344.41,1016.98 L346.15,1018.68 L347.90,1020.35 L349.65,1021.99 L351.39,1023.58 L353.14,1025.14 L354.88,1026.67 L356.63,1028.16 L358.37,1029.61 L360.12,1031.03 L361.86,1032.41 L363.61,1033.76 L365.35,1035.08 L367.10,1036.36 L368.84,1037.60 L370.59,1038.81 L372.33,1039.99 L374.08,1041.14 L375.82,1042.25 L377.57,1043.33 L379.31,1044.37 L381.06,1045.39 L382.80,1046.37 L384.55,1047.33 L386.30,1048.25 L388.04,1049.14 L389.79,1050.01 L391.53,1050.84 L393.28,1051.65 L395.02,1052.42 L396.77,1053.17 L398.51,1053.89 L400.26,1054.59 L402.00,1055.26 L403.75,1055.90 L405.49,1056.52 L407.24,1057.12 L408.98,1057.69 L410.73,1058.23 L412.47,1058.76 L414.22,1059.26 L415.96,1059.74 L417.71,1060.20 L419.45,1060.64 L421.20,1061.05 L422.95,1061.45 L424.69,1061.83 L426.44,1062.19 L428.18,1062.53 L429.93,1062.86 L431.67,1063.16 L433.42,1063.45 L435.16,1063.73 L436.91,1063.99 L438.65,1064.23 L440.40,1064.47 L442.14,1064.68 L443.89,1064.89 L445.63,1065.08 L447.38,1065.26 L449.12,1065.42 L450.87,1065.58 L452.61,1065.73 L454.36,1065.86 L456.10,1065.99 L457.85,1066.10 L459.60,1066.21 L461.34,1066.31 L463.09,1066.40 L464.83,1066.48 L466.58,1066.56 L468.32,1066.63 L470.07,1066.69 L471.81,1066.74 L473.56,1066.80 L475.30,1066.84 L477.05,1066.88 L478.79,1066.92 L480.54,1066.95 L482.28,1066.98 L484.03,1067.00 L485.77,1067.03 L487.52,1067.04 L489.26,1067.06 L491.01,1067.07 L492.75,1067.08 L494.50,1067.09 L496.25,1067.10 L497.99,1067.11 L499.74,1067.11 L501.48,1067.12 L503.23,1067.12 L504.97,1067.13 L506.72,1067.13 L508.46,1067.13 L510.21,1067.13 L511.95,1067.14 L513.70,1067.14 L515.44,1067.14 L517.19,1067.15 L518.93,1067.15 L520.68,1067.16 L522.42,1067.17 L524.17,1067.17 L525.91,1067.18 L527.66,1067.19 L529.40,1067.20 L531.15,1067.22 L532.90,1067.23 L534.64,1067.25 L536.39,1067.26 L538.13,1067.28 L539.88,1067.30 L541.62,1067.32 L543.37,1067.34 L545.11,1067.37 L546.86,1067.39 L548.60,1067.42 L550.35,1067.45 L552.09,1067.48 L553.84,1067.51 L555.58,1067.55 L557.33,1067.58 L559.07,1067.62 L560.82,1067.66 L562.56,1067.70 L564.31,1067.74 L566.05,1067.78 L567.80,1067.82 L569.55,1067.87 L571.29,1067.91 L573.04,1067.96 L574.78,1068.01 L576.53,1068.06 L578.27,1068.11 L580.02,1068.16 L581.76,1068.21 L583.51,1068.26 L585.25,1068.31 L587.00,1068.36 L588.74,1068.42 L590.49,1068.47 L592.23,1068.53 L593.98,1068.58 L595.72,1068.64 L597.47,1068.69 L599.21,1068.75 L600.96,1068.80 L602.70,1068.86 L604.45,1068.91 L606.20,1068.97 L607.94,1069.02 L609.69,1069.08 L611.43,1069.13 L613.18,1069.19 L614.92,1069.24 L616.67,1069.30 L618.41,1069.35 L620.16,1069.40 L621.90,1069.45 L623.65,1069.50 L625.39,1069.55 L627.14,1069.60 L628.88,1069.65 L630.63,1069.70 L632.37,1069.75 L634.12,1069.79 L635.86,1069.84 L637.61,1069.88 L639.35,1069.92 L641.10,1069.96 L642.85,1070.01 L644.59,1070.04 L646.34,1070.08 L648.08,1070.12 L649.83,1070.16 L651.57,1070.19 L653.32,1070.23 L655.06,1070.26 L656.81,1070.29 L658.55,1070.32 L660.30,1070.35 L662.04,1070.38 L663.79,1070.40 L665.53,1070.43 L667.28,1070.45 L669.02,1070.48 L670.77,1070.50 L672.51,1070.52 L674.26,1070.54 L676.00,1070.56 L677.75,1070.58 L679.50,1070.59 L681.24,1070.61 L682.99,1070.62 L684.73,1070.64 L686.48,1070.65 L688.22,1070.66 L689.97,1070.67 L691.71,1070.68 L693.46,1070.69 L695.20,1070.70 L696.95,1070.70 L698.69,1070.71 L700.44,1070.71 L702.18,1070.72 L703.93,1070.72 L705.67,1070.72 L707.42,1070.73 L709.16,1070.73 L710.91,1070.73 L712.65,1070.73 L714.40,1070.73 L716.15,1070.73 L717.89,1070.73 L719.64,1070.73 L721.38,1070.73 L723.13,1070.72 L724.87,1070.72 L726.62,1070.72 L728.36,1070.72 L730.11,1070.71 L731.85,1070.71 L733.60,1070.70 L735.34,1070.70 L737.09,1070.70 L738.83,1070.69 L740.58,1070.69 L742.32,1070.69 L744.07,1070.68 L745.81,1070.68 L747.56,1070.67 L749.30,1070.67 L751.05,1070.67 L752.80,1070.66 L754.54,1070.66 L756.29,1070.65 L758.03,1070.65 L759.78,1070.65 L761.52,1070.65 L763.27,1070.64 L765.01,1070.64 L766.76,1070.64 L768.50,1070.64 L770.25,1070.63 L771.99,1070.63 L773.74,1070.63 L775.48,1070.63 L777.23,1070.63 L778.97,1070.63 L780.72,1070.63 L782.46,1070.63 L784.21,1070.63 L785.95,1070.63 L787.70,1070.64 L789.45,1070.64 L791.19,1070.64 L792.94,1070.64 L794.68,1070.65 L796.43,1070.65 L798.17,1070.65 L799.92,1070.66 L801.66,1070.66 L803.41,1070.67 L805.15,1070.67 L806.90,1070.68 L808.64,1070.68 L810.39,1070.69 L812.13,1070.69 L813.88,1070.70 L815.62,1070.71 L817.37,1070.72 L819.11,1070.72 L820.86,1070.73 L822.60,1070.74 L824.35,1070.75" fill="none" stroke="#000" stroke-width="2.9" stroke-linejoin="round"/>
<path d="M732.3,65.4H767.9" stroke="#ff0000" stroke-width="2.7" fill="none"/>
<path d="M732,119.5H768.2M733.2,114.5v10M767,114.5v10M750.1,112.5v14" stroke="#8b0000" stroke-width="2.7" fill="none"/>
<path d="M732.3,423.6H767.9" stroke="#0000ff" stroke-width="2.7" fill="none"/>
<path d="M732,477.7H768.2M733.2,472.7v10M767,472.7v10M750.1,470.7v14" stroke="#00008b" stroke-width="2.7" fill="none"/>
<path d="M126.50,2.5H825.85M126.50,360.7H825.85M126.50,719.6H825.85M126.50,1071.3H825.85M128.0,2.5V1071.3M824.35,2.5V1071.3M219.62,2.5v4.2M219.62,356.5v8.4M219.62,715.4v8.4M219.62,1071.3v-4.2M311.25,2.5v8.3M311.25,352.4v16.6M311.25,711.3000000000001v16.6M311.25,1071.3v-8.3M402.88,2.5v4.2M402.88,356.5v8.4M402.88,715.4v8.4M402.88,1071.3v-4.2M494.50,2.5v8.3M494.50,352.4v16.6M494.50,711.3000000000001v16.6M494.50,1071.3v-8.3M586.12,2.5v4.2M586.12,356.5v8.4M586.12,715.4v8.4M586.12,1071.3v-4.2M677.75,2.5v8.3M677.75,352.4v16.6M677.75,711.3000000000001v16.6M677.75,1071.3v-8.3M769.38,2.5v4.2M769.38,356.5v8.4M769.38,715.4v8.4M769.38,1071.3v-4.2M128.0,296.70h4.2M824.35,296.70h-4.2M128.0,232.70h8.3M824.35,232.70h-8.3M128.0,168.70h4.2M824.35,168.70h-4.2M128.0,104.70h8.3M824.35,104.70h-8.3M128.0,40.70h4.2M824.35,40.70h-4.2M128.0,672.40h4.2M824.35,672.40h-4.2M128.0,625.20h8.3M824.35,625.20h-8.3M128.0,578.00h4.2M824.35,578.00h-4.2M128.0,530.80h8.3M824.35,530.80h-8.3M128.0,483.60h4.2M824.35,483.60h-4.2M128.0,436.40h8.3M824.35,436.40h-8.3M128.0,389.20h4.2M824.35,389.20h-4.2M128.0,993.10h4.2M824.35,993.10h-4.2M128.0,914.90h8.3M824.35,914.90h-8.3M128.0,836.70h4.2M824.35,836.70h-4.2M128.0,758.50h8.3M824.35,758.50h-8.3" fill="none" stroke="#000" stroke-width="3.0"/>
<line x1="457.20" x2="457.20" y1="361.2" y2="2.4" stroke="#a0a0a0" stroke-width="3.2" stroke-dasharray="4.82 2.87"/>
<line x1="694.20" x2="694.20" y1="33.3" y2="2.0" stroke="#a0a0a0" stroke-width="3.2" stroke-dasharray="4.82 2.87"/>
<line x1="694.20" x2="694.20" y1="392.1" y2="310.0" stroke="#a0a0a0" stroke-width="3.2" stroke-dasharray="4.82 2.87"/>
<line x1="457.20" x2="457.20" y1="540.3" y2="365.5" stroke="#a0a0a0" stroke-width="3.2" stroke-dasharray="4.82 2.87"/>
<line x1="457.20" x2="457.20" y1="719.6" y2="634.1" stroke="#a0a0a0" stroke-width="3.2" stroke-dasharray="4.82 2.87"/>
<line x1="694.20" x2="694.20" y1="719.6" y2="667.6" stroke="#a0a0a0" stroke-width="3.2" stroke-dasharray="4.82 2.87"/>
<line x1="128.0" x2="294.6" y1="669.4" y2="669.4" stroke="#25587a" stroke-width="3.1" opacity="0.93" stroke-dasharray="5.3 2.36"/>
<line x1="128.0" x2="294.6" y1="745.7" y2="745.7" stroke="#a0a0a0" stroke-width="3.1" stroke-dasharray="5.3 2.36"/>
<g opacity="0.999">
<text transform="translate(63.64,117.90) scale(0.9550,1)" font-family="Liberation Serif, serif" font-size="37.6" style="font-kerning:none" stroke="#fff" stroke-width="0.266">0.02</text>
<text transform="translate(63.82,245.90) scale(0.9550,1)" font-family="Liberation Serif, serif" font-size="37.6" style="font-kerning:none" stroke="#fff" stroke-width="0.266">0.01</text>
<text transform="translate(107.91,373.90) scale(0.9550,1)" font-family="Liberation Serif, serif" font-size="37.6" style="font-kerning:none" stroke="#fff" stroke-width="0.266">0</text>
<text transform="translate(63.06,449.60) scale(0.9550,1)" font-family="Liberation Serif, serif" font-size="37.6" style="font-kerning:none" stroke="#fff" stroke-width="0.266">0.03</text>
<text transform="translate(63.64,544.00) scale(0.9550,1)" font-family="Liberation Serif, serif" font-size="37.6" style="font-kerning:none" stroke="#fff" stroke-width="0.266">0.02</text>
<text transform="translate(63.82,638.40) scale(0.9550,1)" font-family="Liberation Serif, serif" font-size="37.6" style="font-kerning:none" stroke="#fff" stroke-width="0.266">0.01</text>
<text transform="translate(107.91,732.80) scale(0.9550,1)" font-family="Liberation Serif, serif" font-size="37.6" style="font-kerning:none" stroke="#fff" stroke-width="0.266">0</text>
<text transform="translate(63.03,771.70) scale(0.9550,1)" font-family="Liberation Serif, serif" font-size="37.6" style="font-kerning:none" stroke="#fff" stroke-width="0.266">0.08</text>
<text transform="translate(62.22,928.10) scale(0.9550,1)" font-family="Liberation Serif, serif" font-size="37.6" style="font-kerning:none" stroke="#fff" stroke-width="0.266">0.04</text>
<text transform="translate(107.91,1084.50) scale(0.9550,1)" font-family="Liberation Serif, serif" font-size="37.6" style="font-kerning:none" stroke="#fff" stroke-width="0.266">0</text>
<text transform="translate(119.33,1102.40) scale(0.9601,1)" font-family="Liberation Serif, serif" font-size="37.6" style="font-kerning:none" stroke="#fff" stroke-width="0.265">0</text>
<text transform="translate(302.57,1102.40) scale(0.9309,1)" font-family="Liberation Serif, serif" font-size="37.6" style="font-kerning:none" stroke="#fff" stroke-width="0.269">5</text>
<text transform="translate(475.70,1102.40) scale(0.9981,1)" font-family="Liberation Serif, serif" font-size="37.6" style="font-kerning:none" stroke="#fff" stroke-width="0.260">10</text>
<text transform="translate(660.88,1102.40) scale(0.9444,1)" font-family="Liberation Serif, serif" font-size="37.6" style="font-kerning:none" stroke="#fff" stroke-width="0.268">15</text>
<text transform="translate(476.54,219.00) scale(0.9909,1)" font-family="Liberation Serif, serif" font-size="37.3" style="font-kerning:none" stroke="#fff" stroke-width="0.422">Hyperuniform</text>
<text transform="translate(476.50,258.70) scale(1.0191,1)" font-family="Liberation Serif, serif" font-size="37.3" style="font-kerning:none" stroke="#fff" stroke-width="0.416">MRJ sphere packings</text>
<text transform="translate(651.76,298.03) scale(0.4096,0.3507)" font-family="Liberation Serif, serif" font-size="100.0" font-style="italic" fill="#000" stroke="#fff" stroke-width="1.583">&#981;</text>
<path d="M684.6,286.9h24.2M684.6,293.8h24.2" stroke="#000" stroke-width="1.5" fill="none"/>
<text transform="translate(720.98,298.30) scale(0.9892,1)" font-family="Liberation Serif, serif" font-size="37.6" style="font-kerning:none" stroke="#fff" stroke-width="0.261">0.637</text>
<text transform="translate(417.94,577.50) scale(0.9897,1)" font-family="Liberation Serif, serif" font-size="37.3" style="font-kerning:none" stroke="#fff" stroke-width="0.422">Non-hyperuniform</text>
<text transform="translate(417.90,617.00) scale(1.0231,1)" font-family="Liberation Serif, serif" font-size="37.3" style="font-kerning:none" stroke="#fff" stroke-width="0.415">Equilibrium hard spheres</text>
<text transform="translate(651.76,656.23) scale(0.4096,0.3507)" font-family="Liberation Serif, serif" font-size="100.0" font-style="italic" fill="#000" stroke="#fff" stroke-width="1.583">&#981;</text>
<path d="M684.6,645.1h24.2M684.6,652.0h24.2" stroke="#000" stroke-width="1.5" fill="none"/>
<text transform="translate(720.98,656.50) scale(0.9934,1)" font-family="Liberation Serif, serif" font-size="37.6" style="font-kerning:none" stroke="#fff" stroke-width="0.261">0.478</text>
<text transform="translate(494.94,932.90) scale(0.9875,1)" font-family="Liberation Serif, serif" font-size="37.3" style="font-kerning:none" stroke="#fff" stroke-width="0.423">Non-hyperuniform</text>
<text transform="translate(494.46,971.60) scale(1.0057,1)" font-family="Liberation Serif, serif" font-size="37.3" style="font-kerning:none" stroke="#fff" stroke-width="0.419">Overlapping spheres</text>
<text transform="translate(651.76,1010.03) scale(0.4096,0.3507)" font-family="Liberation Serif, serif" font-size="100.0" font-style="italic" fill="#000" stroke="#fff" stroke-width="1.583">&#981;</text>
<path d="M684.6,998.9h24.2M684.6,1005.8h24.2" stroke="#000" stroke-width="1.5" fill="none"/>
<text transform="translate(720.98,1010.30) scale(0.9892,1)" font-family="Liberation Serif, serif" font-size="37.6" style="font-kerning:none" stroke="#fff" stroke-width="0.261">0.637</text>
<g transform="translate(0,0)" fill="none" stroke="#000" stroke-linecap="round"><path d="M581.8,51.9C583.3,50.2 585,49.6 587.5,49.75L604.2,49.9C603.9,51.3 603.2,52 602.3,52.2" stroke-width="2.2" stroke-linejoin="round"/><path d="M591.9,50.6C590.5,56 588.5,63 586.3,67.2C584.8,70.5 582.8,74.3 579.8,74.4C578,74.4 576.7,73.5 576.3,72.2" stroke-width="2.4"/><circle cx="577.1" cy="71.7" r="1.2" fill="#000" stroke-width="1"/><path d="M588.7,61.6H599.1q-0.6,1.2 -1.9,1.5" stroke-width="1.9" stroke-linejoin="round"/></g>
<path d="M613.7,47.0H609.7V82.2H613.7M702.1,47.0H706.3V82.2H702.1" stroke="#000" stroke-width="1.3" fill="none"/>
<path d="M616.98,61.38C617.89,59.04 620.99,58.38 622.62,60.82L629.63,78.14C630.81,80.80 633.36,81.02 634.73,78.91" fill="none" stroke="#000" stroke-width="2.5" stroke-linecap="round"/>
<path d="M616.98,80.47L634.82,59.04" fill="none" stroke="#000" stroke-width="1.12" stroke-linecap="round"/>
<text transform="translate(638.09,82.92) scale(0.1924,0.1836)" font-family="Liberation Serif, serif" font-size="100.0" font-style="italic" fill="#000" stroke="#fff" stroke-width="0.372">V</text>
<text transform="translate(657.11,74.41) scale(0.3621,0.4036)" font-family="Liberation Serif, serif" font-size="100.0" fill="#000" stroke="#fff" stroke-width="1.569">(</text>
<text transform="translate(669.41,74.20) scale(0.4181,0.3672)" font-family="Liberation Serif, serif" font-size="100.0" font-style="italic" fill="#000" stroke="#fff" stroke-width="0.505">r</text>
<text transform="translate(688.05,74.41) scale(0.3582,0.4036)" font-family="Liberation Serif, serif" font-size="100.0" fill="#000" stroke="#fff" stroke-width="1.578">)</text>
<text transform="translate(586.48,113.60) scale(0.2301,0.2166)" font-family="Liberation Serif, serif" font-size="100.0" fill="#000" stroke="#fff" stroke-width="0.401">1</text>
<path d="M582.1,120.4H602.3" stroke="#000" stroke-width="1.5" fill="none"/>
<text transform="translate(581.92,141.04) scale(0.2841,0.2388)" font-family="Liberation Serif, serif" font-size="100.0" font-style="italic" fill="#000" stroke="#fff" stroke-width="0.398">V</text>
<path d="M610.7,102.6V138.9M692.4,102.6V138.9" stroke="#000" stroke-width="1.5" fill="none"/>
<text transform="translate(617.36,129.45) scale(0.4211,0.3581)" font-family="Liberation Serif, serif" font-size="100.0" font-style="italic" fill="#000" stroke="#fff" stroke-width="0.490">J</text>
<text transform="translate(625.23,120.63) scale(0.4267,0.3596)" font-family="Liberation Serif, serif" font-size="100.0" fill="#000" stroke="#fff" stroke-width="0.489">&#732;</text>
<text transform="translate(642.92,130.38) scale(0.2920,0.4003)" font-family="Liberation Serif, serif" font-size="100.0" fill="#000" stroke="#fff" stroke-width="1.755">(</text>
<text transform="translate(653.91,129.20) scale(0.4119,0.3589)" font-family="Liberation Serif, serif" font-size="100.0" font-style="italic" fill="#000" stroke="#fff" stroke-width="0.497">k</text>
<text transform="translate(676.05,130.38) scale(0.2959,0.4003)" font-family="Liberation Serif, serif" font-size="100.0" fill="#000" stroke="#fff" stroke-width="1.743">)</text>
<text transform="translate(697.45,115.30) scale(0.2619,0.2296)" font-family="Liberation Serif, serif" font-size="100.0" fill="#000" stroke="#fff" stroke-width="0.399">2</text>
<g transform="translate(0,358.2)" fill="none" stroke="#000" stroke-linecap="round"><path d="M581.8,51.9C583.3,50.2 585,49.6 587.5,49.75L604.2,49.9C603.9,51.3 603.2,52 602.3,52.2" stroke-width="2.2" stroke-linejoin="round"/><path d="M591.9,50.6C590.5,56 588.5,63 586.3,67.2C584.8,70.5 582.8,74.3 579.8,74.4C578,74.4 576.7,73.5 576.3,72.2" stroke-width="2.4"/><circle cx="577.1" cy="71.7" r="1.2" fill="#000" stroke-width="1"/><path d="M588.7,61.6H599.1q-0.6,1.2 -1.9,1.5" stroke-width="1.9" stroke-linejoin="round"/></g>
<path d="M613.7,405.2H609.7V440.4H613.7M702.1,405.2H706.3V440.4H702.1" stroke="#000" stroke-width="1.3" fill="none"/>
<path d="M616.98,419.57C617.89,417.24 620.99,416.58 622.62,419.02L629.63,436.34C630.81,439.00 633.36,439.22 634.73,437.11" fill="none" stroke="#000" stroke-width="2.5" stroke-linecap="round"/>
<path d="M616.98,438.67L634.82,417.24" fill="none" stroke="#000" stroke-width="1.12" stroke-linecap="round"/>
<text transform="translate(638.09,441.12) scale(0.1924,0.1836)" font-family="Liberation Serif, serif" font-size="100.0" font-style="italic" fill="#000" stroke="#fff" stroke-width="0.372">V</text>
<text transform="translate(657.11,432.61) scale(0.3621,0.4036)" font-family="Liberation Serif, serif" font-size="100.0" fill="#000" stroke="#fff" stroke-width="1.569">(</text>
<text transform="translate(669.41,432.40) scale(0.4181,0.3672)" font-family="Liberation Serif, serif" font-size="100.0" font-style="italic" fill="#000" stroke="#fff" stroke-width="0.505">r</text>
<text transform="translate(688.05,432.61) scale(0.3582,0.4036)" font-family="Liberation Serif, serif" font-size="100.0" fill="#000" stroke="#fff" stroke-width="1.578">)</text>
<text transform="translate(586.48,471.80) scale(0.2301,0.2166)" font-family="Liberation Serif, serif" font-size="100.0" fill="#000" stroke="#fff" stroke-width="0.401">1</text>
<path d="M582.1,478.6H602.3" stroke="#000" stroke-width="1.5" fill="none"/>
<text transform="translate(581.92,499.24) scale(0.2841,0.2388)" font-family="Liberation Serif, serif" font-size="100.0" font-style="italic" fill="#000" stroke="#fff" stroke-width="0.398">V</text>
<path d="M610.7,460.8V497.1M692.4,460.8V497.1" stroke="#000" stroke-width="1.5" fill="none"/>
<text transform="translate(617.36,487.65) scale(0.4211,0.3581)" font-family="Liberation Serif, serif" font-size="100.0" font-style="italic" fill="#000" stroke="#fff" stroke-width="0.490">J</text>
<text transform="translate(625.23,478.83) scale(0.4267,0.3596)" font-family="Liberation Serif, serif" font-size="100.0" fill="#000" stroke="#fff" stroke-width="0.489">&#732;</text>
<text transform="translate(642.92,488.58) scale(0.2920,0.4003)" font-family="Liberation Serif, serif" font-size="100.0" fill="#000" stroke="#fff" stroke-width="1.755">(</text>
<text transform="translate(653.91,487.40) scale(0.4119,0.3589)" font-family="Liberation Serif, serif" font-size="100.0" font-style="italic" fill="#000" stroke="#fff" stroke-width="0.497">k</text>
<text transform="translate(676.05,488.58) scale(0.2959,0.4003)" font-family="Liberation Serif, serif" font-size="100.0" fill="#000" stroke="#fff" stroke-width="1.743">)</text>
<text transform="translate(697.45,473.50) scale(0.2619,0.2296)" font-family="Liberation Serif, serif" font-size="100.0" fill="#000" stroke="#fff" stroke-width="0.399">2</text>
<text transform="translate(442.85,1145.30) scale(0.4678,0.4468)" font-family="Liberation Serif, serif" font-size="100.0" font-style="italic" fill="#000" stroke="#fff" stroke-width="1.203">k</text>
<text transform="translate(476.01,1145.21) scale(0.4567,0.4614)" font-family="Liberation Serif, serif" font-size="100.0" font-style="italic" fill="#000" stroke="#fff" stroke-width="1.089">D</text>
<g transform="rotate(-90)">
<path d="M-628.57,23.14C-627.41,20.17 -623.49,19.32 -621.41,22.43L-612.51,44.50C-611.01,47.90 -607.78,48.18 -606.05,45.49" fill="none" stroke="#000" stroke-width="3.0" stroke-linecap="round"/>
<path d="M-628.57,47.48L-605.93,20.17" fill="none" stroke="#000" stroke-width="1.35" stroke-linecap="round"/>
<text transform="translate(-621.98,33.83) scale(0.4361,0.3596)" font-family="Liberation Serif, serif" font-size="100.0" fill="#000" stroke="#fff" stroke-width="0.484">&#732;</text>
<text transform="translate(-604.30,52.59) scale(0.2871,0.2717)" font-family="Liberation Serif, serif" font-size="100.0" font-style="italic" fill="#000" stroke="#fff" stroke-width="0.451">V</text>
<text transform="translate(-577.84,39.59) scale(0.3738,0.4842)" font-family="Liberation Serif, serif" font-size="100.0" fill="#000" stroke="#fff" stroke-width="2.116">(</text>
<text transform="translate(-563.33,39.90) scale(0.4608,0.4569)" font-family="Liberation Serif, serif" font-size="100.0" font-style="italic" fill="#000" stroke="#fff" stroke-width="1.199">k</text>
<text transform="translate(-540.17,39.59) scale(0.3932,0.4842)" font-family="Liberation Serif, serif" font-size="100.0" fill="#000" stroke="#fff" stroke-width="2.063">)</text>
<path d="M-522.5,49.6L-506.3,6.3" stroke="#000" stroke-width="1.7" fill="none"/>
<text transform="translate(-501.28,39.11) scale(0.4622,0.4644)" font-family="Liberation Serif, serif" font-size="100.0" font-style="italic" fill="#000" stroke="#fff" stroke-width="1.079">D</text>
<text transform="translate(-466.85,23.68) scale(0.3244,0.3230)" font-family="Liberation Serif, serif" font-size="100.0" fill="#000" stroke="#fff" stroke-width="0.504">3</text>
</g>
</g>
</svg>
</body></html>
